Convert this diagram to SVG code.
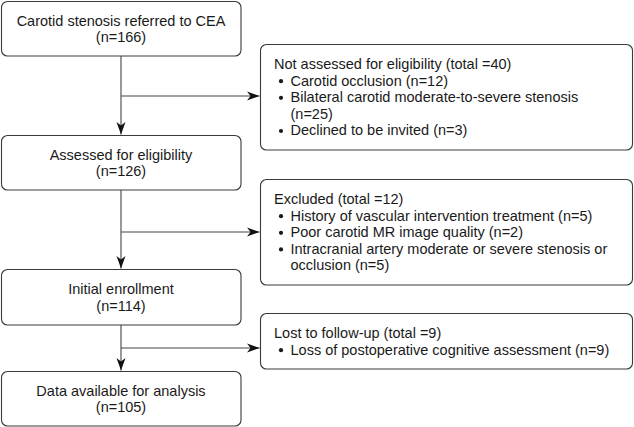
<svg xmlns="http://www.w3.org/2000/svg" width="634" height="427" viewBox="0 0 634 427">
<style>
  .box { fill: #ffffff; stroke: #3a3a3a; stroke-width: 1.1; }
  .t { font-family: "Liberation Sans", Arial, Helvetica, sans-serif; font-size: 14.5px; fill: #1a1a1a; }
  .c { text-anchor: middle; }
  .line { fill: none; stroke: #444444; stroke-width: 1.1; }
  .dot { fill: #1a1a1a; }
</style>
<defs>
  <marker id="arr" markerUnits="userSpaceOnUse" markerWidth="14" markerHeight="11" refX="12.5" refY="5.5" orient="auto">
    <path d="M0,1 L12.5,5.5 L0,10 L3.5,5.5 Z" fill="#111111"/>
  </marker>
</defs>
<rect width="634" height="427" fill="#ffffff"/>

<g id="connectors">
  <line class="line" x1="121" y1="56" x2="121" y2="134.5" marker-end="url(#arr)"/>
  <line class="line" x1="121" y1="96" x2="259.5" y2="96" marker-end="url(#arr)"/>
  <line class="line" x1="121" y1="190" x2="121" y2="268.5" marker-end="url(#arr)"/>
  <line class="line" x1="121" y1="232" x2="259.5" y2="232" marker-end="url(#arr)"/>
  <line class="line" x1="121" y1="325" x2="121" y2="370.5" marker-end="url(#arr)"/>
  <line class="line" x1="121" y1="348" x2="259.5" y2="348" marker-end="url(#arr)"/>
</g>

<g id="node-referred">
  <rect class="box" x="1.5" y="1.5" width="239.5" height="54.5" rx="6"/>
  <text class="t c" x="121" y="25.5">Carotid stenosis referred to CEA</text>
  <text class="t c" x="121" y="42">(n=166)</text>
</g>

<g id="node-assessed">
  <rect class="box" x="1.5" y="135.5" width="239.5" height="54.5" rx="6"/>
  <text class="t c" x="121" y="159.5">Assessed for eligibility</text>
  <text class="t c" x="121" y="176">(n=126)</text>
</g>

<g id="node-initial">
  <rect class="box" x="1.5" y="269.5" width="239.5" height="55.5" rx="6"/>
  <text class="t c" x="121" y="294">Initial enrollment</text>
  <text class="t c" x="121" y="310.6">(n=114)</text>
</g>

<g id="node-data">
  <rect class="box" x="1.5" y="371.5" width="239.5" height="54.5" rx="6"/>
  <text class="t c" x="121" y="395.5">Data available for analysis</text>
  <text class="t c" x="121" y="412">(n=105)</text>
</g>

<g id="node-not-assessed">
  <rect class="box" x="260.5" y="44.5" width="372" height="105.5" rx="6"/>
  <text class="t" x="274" y="69">Not assessed for eligibility (total =40)</text>
  <circle class="dot" cx="281" cy="81.2" r="2.1"/>
  <text class="t" x="290.5" y="85.6">Carotid occlusion (n=12)</text>
  <circle class="dot" cx="281" cy="97.8" r="2.1"/>
  <text class="t" x="290.5" y="102.2">Bilateral carotid moderate-to-severe stenosis</text>
  <text class="t" x="290.5" y="118.8">(n=25)</text>
  <circle class="dot" cx="281" cy="131" r="2.1"/>
  <text class="t" x="290.5" y="135.4">Declined to be invited (n=3)</text>
</g>

<g id="node-excluded">
  <rect class="box" x="260.5" y="179.5" width="372" height="105.5" rx="6"/>
  <text class="t" x="274" y="204">Excluded (total =12)</text>
  <circle class="dot" cx="281" cy="216.2" r="2.1"/>
  <text class="t" x="290.5" y="220.6">History of vascular intervention treatment (n=5)</text>
  <circle class="dot" cx="281" cy="232.8" r="2.1"/>
  <text class="t" x="290.5" y="237.2">Poor carotid MR image quality (n=2)</text>
  <circle class="dot" cx="281" cy="249.4" r="2.1"/>
  <text class="t" x="290.5" y="253.8">Intracranial artery moderate or severe stenosis or</text>
  <text class="t" x="290.5" y="270.4">occlusion (n=5)</text>
</g>

<g id="node-lost">
  <rect class="box" x="260.5" y="313.5" width="372" height="55.5" rx="6"/>
  <text class="t" x="274" y="338">Lost to follow-up (total =9)</text>
  <circle class="dot" cx="281" cy="350.2" r="2.1"/>
  <text class="t" x="290.5" y="354.6">Loss of postoperative cognitive assessment (n=9)</text>
</g>
</svg>
